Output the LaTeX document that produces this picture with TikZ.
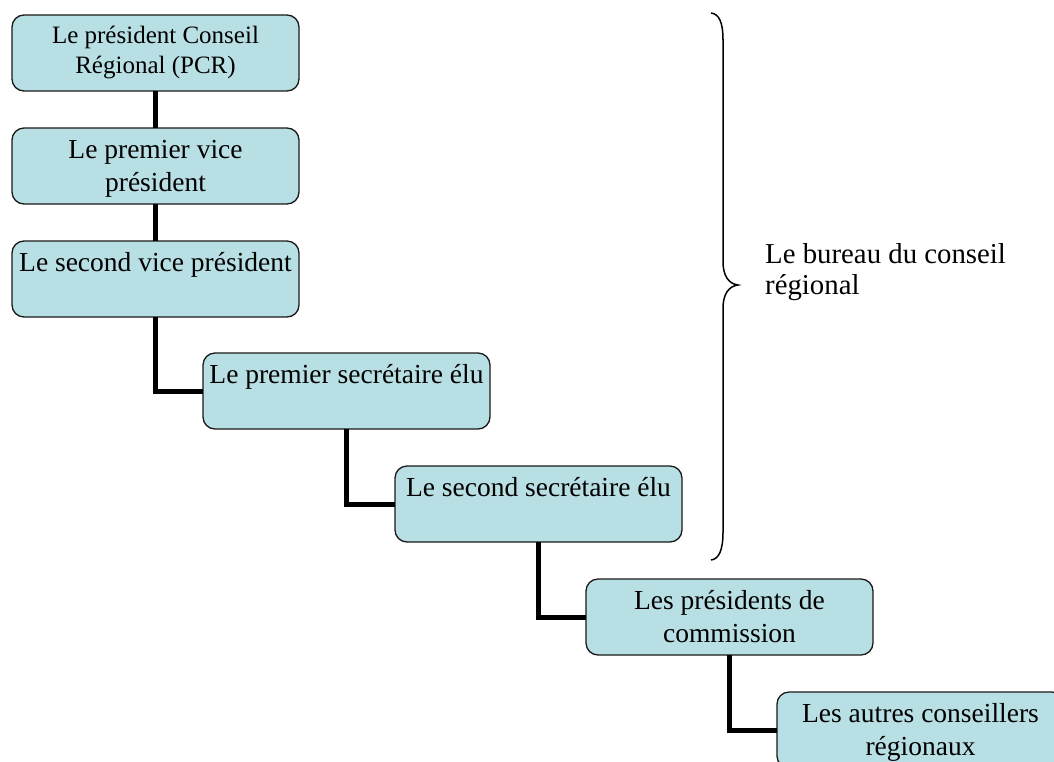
\documentclass[tikz,border=0pt]{standalone}
\usepackage{fontspec}
\setmainfont{Liberation Serif}
\definecolor{boxfill}{RGB}{184,223,227}
\definecolor{boxline}{RGB}{25,25,25}
\newcommand{\bxt}[2]{\parbox[t][76pt][t]{287pt}{\centering\rule{0pt}{#1}\ignorespaces#2}}
\tikzset{
  orgbox/.style={draw=boxline, line width=1.3pt, fill=boxfill, rounded corners=12pt,
    inner sep=0pt, outer sep=0pt, anchor=north west, font=\fontsize{27.5}{33}\selectfont},
  smalltxt/.style={font=\fontsize{25}{30.5}\selectfont},
  conn/.style={line width=5pt, black},
  bracestroke/.style={line width=1.5pt, black},
  lbltxt/.style={inner sep=0pt, anchor=north west, font=\fontsize{28.8}{31}\selectfont}
}
\begin{document}
\begin{tikzpicture}[x=1pt,y=-1pt]
\clip (0,0) rectangle (1054,761);
\node[orgbox, smalltxt] (b1) at (12,15) {\bxt{28pt}{Le président Conseil\\Régional (PCR)}};
\node[orgbox] (b2) at (12,128) {\bxt{30pt}{Le premier vice\\président}};
\node[orgbox] (b3) at (12,241) {\bxt{30pt}{Le second vice président}};
\node[orgbox] (b4) at (203,353) {\bxt{30pt}{Le premier secrétaire élu}};
\node[orgbox] (b5) at (395,466) {\bxt{30pt}{Le second secrétaire élu}};
\node[orgbox] (b6) at (586,579) {\bxt{30pt}{Les présidents de\\commission}};
\node[orgbox] (b7) at (777,692) {\bxt{30pt}{Les autres conseillers\\régionaux}};
\draw[conn] (b1.south) -- (b2.north);
\draw[conn] (b2.south) -- (b3.north);
\draw[conn] (b3.south) |- (b4.west);
\draw[conn] (b4.south) |- (b5.west);
\draw[conn] (b5.south) |- (b6.west);
\draw[conn] (b6.south) |- (b7.west);
% brace
\draw[bracestroke] (711,13) .. controls (719,14) and (723,22) .. (723,40)
  -- (723,262) .. controls (723,276) and (729,284) .. (738,285)
  .. controls (729,286) and (723,294) .. (723,308)
  -- (723,532) .. controls (723,550) and (719,559) .. (711,560);
\node[lbltxt] (lbl) at (765,241) {\parbox[t]{285pt}{\raggedright\rule{0pt}{22pt}Le bureau du conseil\\régional}};
\end{tikzpicture}
\end{document}
